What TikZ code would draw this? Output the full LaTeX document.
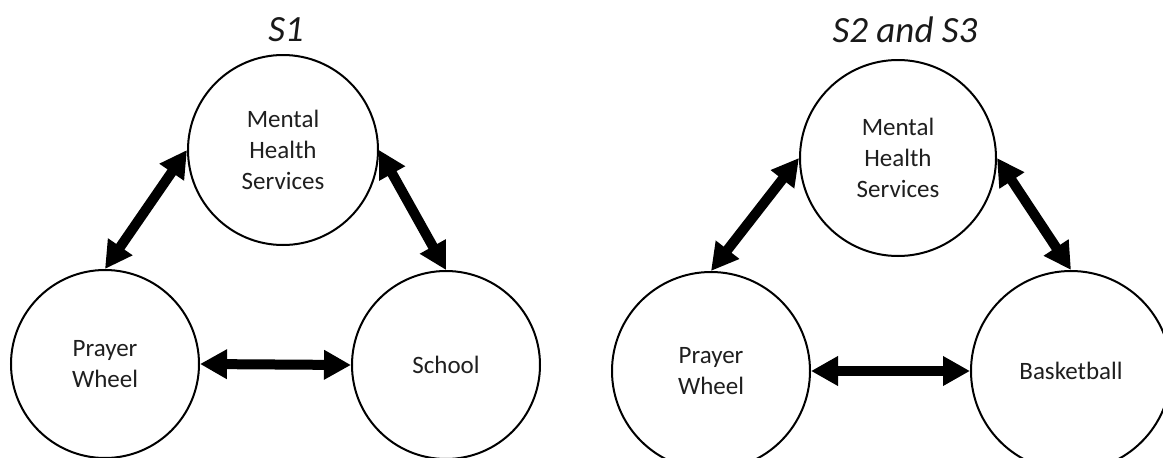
\documentclass[tikz,border=0pt]{standalone}
\usepackage{fontspec}
\setmainfont{Carlito}
\usetikzlibrary{arrows.meta}
\begin{document}
\begin{tikzpicture}[x=1pt,y=-1pt,
  bubble/.style={circle,draw=black,line width=2pt,inner sep=0pt,
    align=center,text=black!88,font=\fontsize{25}{31}\selectfont},
  biarrow/.style={line width=10pt,{Triangle[length=27pt,width=28pt]}-{Triangle[length=27pt,width=28pt]}},
  ttl/.style={font=\fontsize{37}{40}\selectfont\itshape,text=black!90,anchor=base,inner sep=0pt}]
\useasboundingbox (0,0) rectangle (1163,458);
\clip (0,0) rectangle (1163,458);
\fill[white] (0,0) rectangle (1163,458);
% left diagram
\node[ttl] (t1) at (286,41) {S1};
\node[bubble,minimum size=190pt] (mh1) at (283,150) {Mental\\Health\\Services};
\node[bubble,minimum size=188pt] (pw1) at (105,364) {Prayer\\Wheel};
\node[bubble,minimum size=188pt] (sc1) at (446,365) {School};
\draw[biarrow] (pw1.north) -- (mh1.west);
\draw[biarrow] (mh1.east) -- (sc1.north);
\draw[biarrow] (pw1.east) -- (sc1.west);
% right diagram
\node[ttl] (t2) at (905,42) {S2 and S3};
\node[bubble,minimum size=196pt] (mh2) at (898,158) {Mental\\Health\\Services};
\node[bubble,minimum size=198pt] (pw2) at (711,371) {Prayer\\Wheel};
\node[bubble,minimum size=200pt] (bb2) at (1071,371) {Basketball};
\draw[biarrow] (pw2.north) -- (mh2.west);
\draw[biarrow] (mh2.east) -- (bb2.north);
\draw[biarrow] (pw2.east) -- (bb2.west);
\end{tikzpicture}
\end{document}
